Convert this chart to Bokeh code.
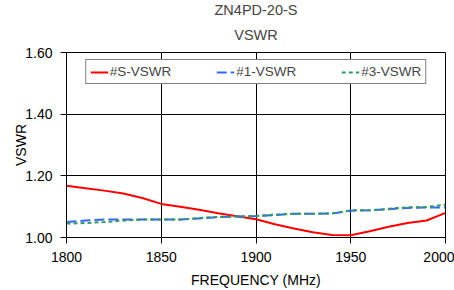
from bokeh.plotting import figure
from bokeh.models import Title, Legend, LegendItem, FixedTicker, Range1d, CustomJSTickFormatter
from bokeh.embed import file_html
from bokeh.resources import INLINE

freq = [1800, 1810, 1820, 1830, 1840, 1850, 1860, 1870, 1880, 1890, 1900,
        1910, 1920, 1930, 1940, 1950, 1960, 1970, 1980, 1990, 2000]
vswr_s = [1.168, 1.160, 1.152, 1.143, 1.128, 1.109, 1.100, 1.090, 1.079, 1.069, 1.059,
          1.043, 1.029, 1.017, 1.008, 1.007, 1.020, 1.035, 1.047, 1.055, 1.080]
vswr_1 = [1.050, 1.055, 1.058, 1.058, 1.058, 1.058, 1.058, 1.062, 1.066, 1.068, 1.069,
          1.073, 1.077, 1.077, 1.078, 1.087, 1.088, 1.092, 1.096, 1.097, 1.097]
vswr_3 = [1.045, 1.047, 1.050, 1.055, 1.058, 1.058, 1.058, 1.063, 1.067, 1.068, 1.070,
          1.074, 1.077, 1.077, 1.078, 1.088, 1.088, 1.093, 1.098, 1.099, 1.106]
x_ticks = [1800, 1850, 1900, 1950, 2000]
y_ticks = [1.00, 1.20, 1.40, 1.60]
series_names = ["#S-VSWR", "#1-VSWR", "#3-VSWR"]
title_lines = ["ZN4PD-20-S", "VSWR"]

FONT = "Liberation Sans"

p = figure(width=454, height=290, output_backend="svg", toolbar_location=None,
           x_range=Range1d(x_ticks[0], x_ticks[-1]), y_range=Range1d(y_ticks[0], y_ticks[-1]),
           min_border_left=66, min_border_right=9, min_border_top=52, min_border_bottom=52)
p.title.text = title_lines[0]
p.title.align = "center"
p.title.text_font = FONT
p.title.text_font_size = "14.5px"
p.title.text_font_style = "normal"
p.title.text_line_height = 0.8
p.title.standoff = -5
p.add_layout(Title(text=title_lines[1], align="center", text_font=FONT, standoff=19,
                   text_line_height=0.8, text_font_size="14.5px",
                   text_font_style="normal"), "above")

p.outline_line_color = "black"
p.outline_line_width = 1
p.background_fill_color = "white"
p.border_fill_color = "white"

for ax in (p.xaxis[0], p.yaxis[0]):
    ax.major_label_text_font = FONT
    ax.major_label_text_font_size = "14px"
    ax.major_label_text_color = "black"
    ax.axis_label_text_font = FONT
    ax.axis_label_text_font_size = "14px"
    ax.axis_label_text_font_style = "normal"
    ax.axis_label_text_color = "black"
    ax.axis_line_color = "black"
    ax.major_tick_line_color = "black"
    ax.major_tick_out = 6
    ax.major_tick_in = 0
    ax.minor_tick_line_color = None

p.xaxis.ticker = FixedTicker(ticks=x_ticks)
p.yaxis.ticker = FixedTicker(ticks=y_ticks)
p.yaxis.formatter = CustomJSTickFormatter(code="return tick.toFixed(2);")
p.xaxis.axis_label = "FREQUENCY (MHz)"
p.yaxis.axis_label = "VSWR"
p.xaxis.major_label_standoff = 8
p.yaxis.major_label_standoff = 8
p.xaxis.axis_label_standoff = 7
p.yaxis.axis_label_standoff = -7

p.xgrid.grid_line_color = "black"
p.ygrid.grid_line_color = "black"
p.xgrid.grid_line_width = 1
p.ygrid.grid_line_width = 1

r_s = p.line(freq, vswr_s, line_color="#ff0000", line_width=2)
r_1 = p.line(freq, vswr_1, line_color="#3366ff", line_width=2, line_dash="10 4")
r_3 = p.line(freq, vswr_3, line_color="#339966", line_width=2, line_dash="4 3")

legend = Legend(items=[LegendItem(label=series_names[0], renderers=[r_s]),
                       LegendItem(label=series_names[1], renderers=[r_1]),
                       LegendItem(label=series_names[2], renderers=[r_3])],
                orientation="horizontal", location="top_center",
                label_text_font=FONT, label_text_font_size="13.5px",
                glyph_width=18, glyph_height=14, label_standoff=2,
                spacing=45, padding=4, margin=7,
                border_line_color="black", border_line_width=1,
                background_fill_color="white", background_fill_alpha=1)
p.add_layout(legend)

open("out.html", "w").write(file_html(p, INLINE))
